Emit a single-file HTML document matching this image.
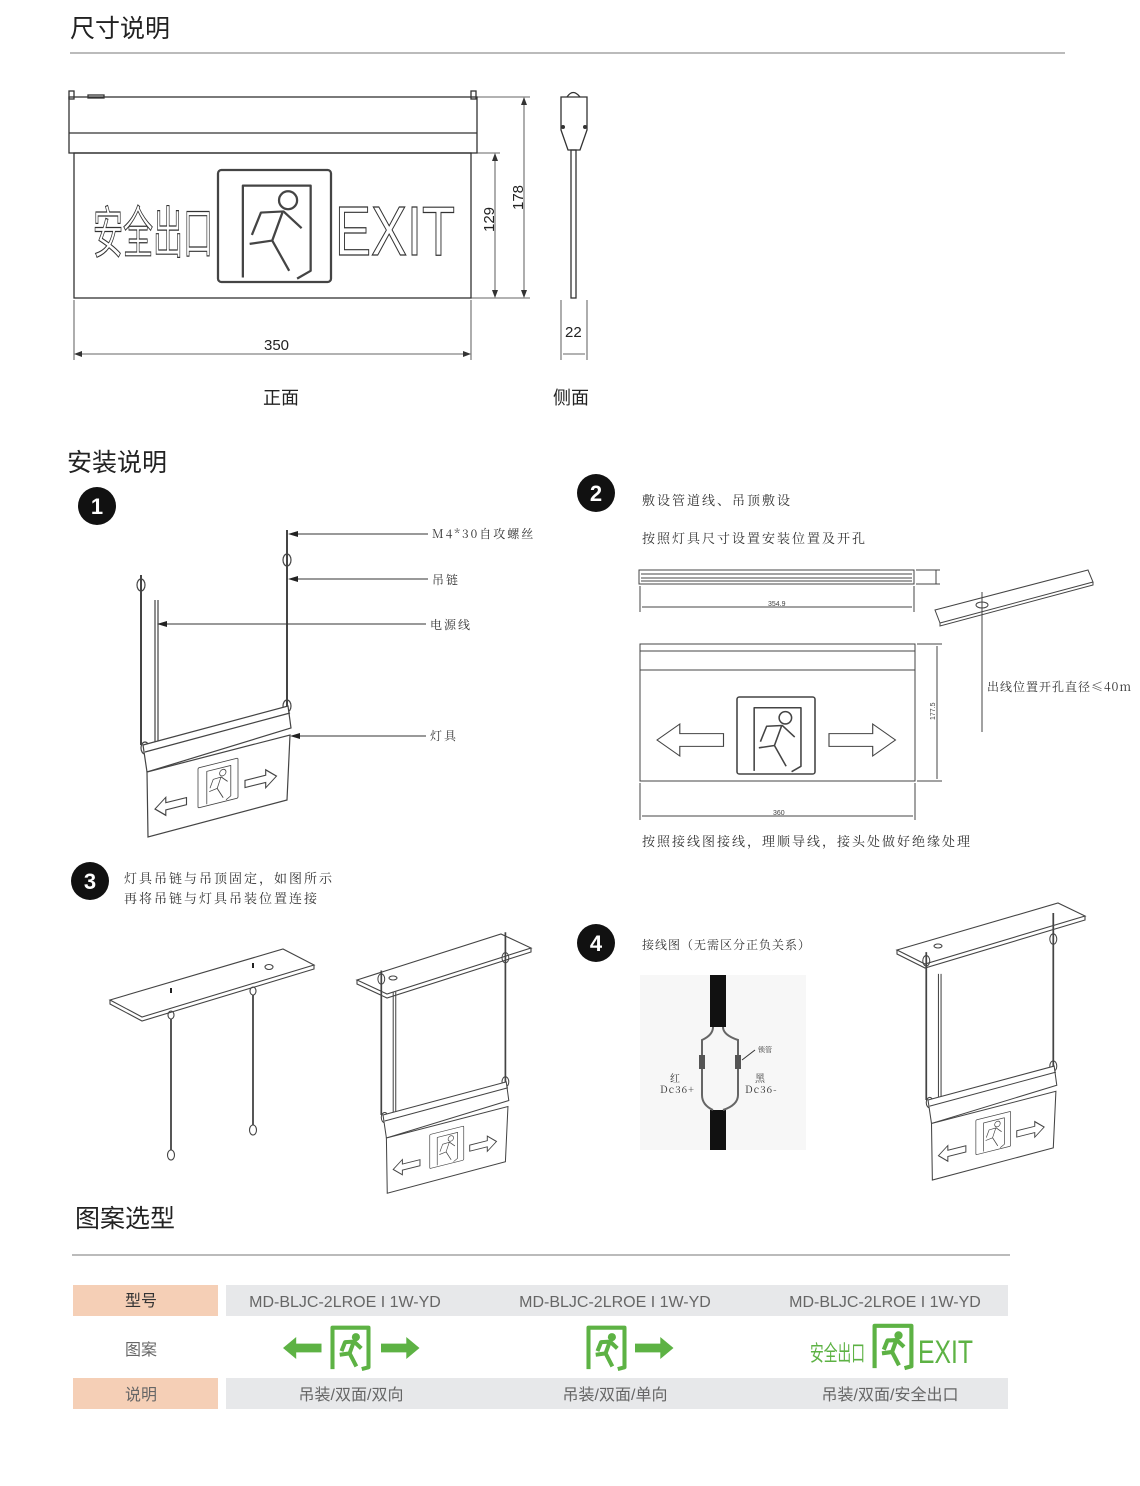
<!DOCTYPE html>
<html><head><meta charset="utf-8"><style>
html,body{margin:0;padding:0;background:#fff}
svg{display:block}
text{font-family:"Liberation Sans","Noto Sans CJK SC",sans-serif}
.s{font-family:"Noto Serif CJK SC","Liberation Serif",serif;fill:#333;letter-spacing:2px}
</style></head><body>
<svg width="1140" height="1486" viewBox="0 0 1140 1486" xmlns="http://www.w3.org/2000/svg">
<defs>
<g id="man" fill="none" stroke="#444" stroke-width="2" stroke-linejoin="round">
 <rect x="0" y="0" width="100" height="100" rx="3"/>
 <path d="M22,96 V14 H82 V90 L70,97"/>
 <circle cx="62" cy="27" r="8"/>
 <path d="M30,58 L38,38 L58,37 L74,52 M57,38 L48,63 L63,90 M48,63 L28,66"/>
</g>
<g id="gman" fill="none" stroke="#5db244" stroke-width="9" stroke-linejoin="round">
 <path d="M10,98 V6 H90 V94 L75,98"/>
 <circle cx="62" cy="27" r="9" fill="#5db244" stroke="none"/>
 <path d="M30,58 L38,38 L58,37 L74,52 M57,38 L48,63 L63,92 M48,63 L26,66"/>
</g>
<path id="arrL" d="M0,20 L24,0 V12 H70 V28 H24 V40 Z"/>
<path id="arrR" d="M70,20 L46,0 V12 H0 V28 H46 V40 Z"/>
<g id="hang" fill="none" stroke="#444" stroke-width="1.2">
 <line x1="141" y1="575" x2="141" y2="745" stroke-width="2"/>
 <line x1="155" y1="600" x2="155" y2="748"/>
 <line x1="158" y1="600" x2="158" y2="748"/>
 <line x1="287" y1="530" x2="287" y2="708" stroke-width="2"/>
 <ellipse cx="141" cy="585" rx="4" ry="6"/>
 <ellipse cx="287" cy="560" rx="4" ry="6"/>
 <ellipse cx="287" cy="706" rx="4" ry="6"/>
 <ellipse cx="145" cy="748" rx="4" ry="6"/>
 <path d="M143,745 L288,706 L291,728 L147,772 Z" fill="#fff"/>
 <path d="M145,752 L290,713"/>
 <path d="M147,772 L290,735 L287,800 L148,837 Z" fill="#fff"/>
 <g transform="translate(198,768) skewY(-14) scale(0.4)"><use href="#man"/></g>
 <g transform="translate(155,800) skewY(-14) scale(0.45)" fill="#fff" stroke="#444" stroke-width="2.5"><use href="#arrL"/></g>
 <g transform="translate(245,775) skewY(-14) scale(0.45)" fill="#fff" stroke="#444" stroke-width="2.5"><use href="#arrR"/></g>
</g>
</defs>

<!-- Section 1 -->
<text x="70" y="37" font-size="25" fill="#222">尺寸说明</text>
<line x1="70" y1="53" x2="1065" y2="53" stroke="#bbb" stroke-width="2"/>

<g fill="none" stroke="#333" stroke-width="1.3">
 <rect x="69" y="97" width="408" height="56"/>
 <line x1="69" y1="133" x2="477" y2="133"/>
 <rect x="69" y="91" width="5" height="8"/><rect x="471" y="91" width="5" height="8"/>
 <rect x="88" y="95" width="16" height="3"/>
 <rect x="74" y="153" width="397" height="145"/>
 <!-- dims -->
 <line x1="477" y1="153" x2="500" y2="153" stroke-width="0.8"/>
 <line x1="471" y1="298" x2="530" y2="298" stroke-width="0.8"/>
 <line x1="477" y1="97" x2="530" y2="97" stroke-width="0.8"/>
 <line x1="495" y1="155" x2="495" y2="296" stroke-width="0.8"/>
 <line x1="524" y1="99" x2="524" y2="296" stroke-width="0.8"/>
 <line x1="74" y1="300" x2="74" y2="360" stroke-width="0.8"/>
 <line x1="471" y1="300" x2="471" y2="360" stroke-width="0.8"/>
 <line x1="76" y1="354" x2="469" y2="354" stroke-width="0.8"/>
 <!-- side -->
 <path d="M561,97 H587 V130 L580,150 H568 L561,130 Z"/>
 <path d="M567,97 Q573,88 580,97"/>
 <rect x="571" y="150" width="5" height="148"/>
 <line x1="561" y1="300" x2="561" y2="360" stroke-width="0.8"/>
 <line x1="587" y1="300" x2="587" y2="360" stroke-width="0.8"/>
 <line x1="563" y1="354" x2="585" y2="354" stroke-width="0.8"/>
</g>
<g transform="translate(218,170) scale(1.13,1.12)"><use href="#man"/></g>
<g fill="#333">
 <path d="M495,153 l-3,8 h6z M495,298 l-3,-8 h6z M524,97 l-3,8 h6z M524,298 l-3,-8 h6z M74,354 l8,-3 v6z M471,354 l-8,-3 v6z"/>
 <circle cx="563" cy="127" r="2"/><circle cx="585" cy="127" r="2"/>
</g>
<text x="93" y="253" font-size="56" fill="#fff" stroke="#333" stroke-width="1.2" textLength="120" lengthAdjust="spacingAndGlyphs">安全出口</text>
<text x="335" y="255" font-size="70" fill="#fff" stroke="#333" stroke-width="1.2" textLength="120" lengthAdjust="spacingAndGlyphs">EXIT</text>
<text x="494" y="232" font-size="15" fill="#222" transform="rotate(-90 494 232)">129</text>
<text x="523" y="210" font-size="15" fill="#222" transform="rotate(-90 523 210)">178</text>
<text x="264" y="350" font-size="15" fill="#222">350</text>
<text x="565" y="337" font-size="15" fill="#222">22</text>
<text x="263" y="404" font-size="18" fill="#222">正面</text>
<text x="553" y="404" font-size="18" fill="#222">侧面</text>

<!-- Section 2 -->
<text x="67" y="471" font-size="25" fill="#222">安装说明</text>
<circle cx="97" cy="506" r="19" fill="#111"/><text x="97" y="514" font-size="22" font-weight="bold" fill="#fff" text-anchor="middle">1</text>
<use href="#hang"/>
<g stroke="#333" stroke-width="1">
 <line x1="292" y1="534" x2="428" y2="534"/>
 <line x1="292" y1="579" x2="428" y2="579"/>
 <line x1="160" y1="624" x2="426" y2="624"/>
 <line x1="292" y1="736" x2="426" y2="736"/>
</g>
<g fill="#222"><path d="M288,534 l10,-3 v6z M288,579 l10,-3 v6z M157,624 l10,-3 v6z M290,736 l10,-3 v6z"/></g>
<text class="s" x="432" y="538" font-size="12">M4*30自攻螺丝</text>
<text class="s" x="432" y="584" font-size="12">吊链</text>
<text class="s" x="430" y="629" font-size="12">电源线</text>
<text class="s" x="430" y="740" font-size="12">灯具</text>

<circle cx="596" cy="493" r="19" fill="#111"/><text x="596" y="501" font-size="22" font-weight="bold" fill="#fff" text-anchor="middle">2</text>
<text class="s" x="642" y="505" font-size="13">敷设管道线、吊顶敷设</text>
<text class="s" x="642" y="543" font-size="13">按照灯具尺寸设置安装位置及开孔</text>
<g fill="none" stroke="#444" stroke-width="1">
 <rect x="639" y="570" width="275" height="14"/>
 <line x1="641" y1="574" x2="912" y2="574"/><line x1="641" y1="578" x2="912" y2="578"/><line x1="641" y1="581" x2="912" y2="581"/>
 <line x1="640" y1="586" x2="640" y2="612"/><line x1="914" y1="586" x2="914" y2="612"/>
 <line x1="642" y1="607" x2="912" y2="607"/>
 <line x1="916" y1="570" x2="940" y2="570"/><line x1="916" y1="584" x2="940" y2="584"/><line x1="936" y1="570" x2="936" y2="584"/>
 <path d="M935,610 L1088,570 L1093,582 L940,623 Z"/><path d="M940,623 L940,626 L1093,585 L1093,582"/>
 <ellipse cx="982" cy="605" rx="6" ry="3"/>
 <line x1="982" y1="592" x2="982" y2="732"/>
 <rect x="640" y="644" width="275" height="137"/>
 <line x1="640" y1="670" x2="915" y2="670"/><line x1="640" y1="651" x2="915" y2="651"/>
 <line x1="917" y1="644" x2="942" y2="644"/><line x1="917" y1="781" x2="942" y2="781"/>
 <line x1="937" y1="646" x2="937" y2="779"/>
 <line x1="640" y1="783" x2="640" y2="820"/><line x1="915" y1="783" x2="915" y2="820"/>
 <line x1="642" y1="816" x2="913" y2="816"/>
</g>
<text x="768" y="606" font-size="7" fill="#444">354.9</text>
<text x="773" y="815" font-size="7" fill="#444">360</text>
<text x="935" y="720" font-size="7" fill="#444" transform="rotate(-90 935 720)">177.5</text>
<g transform="translate(737,697) scale(0.78,0.77)"><use href="#man"/></g>
<g fill="#fff" stroke="#444" stroke-width="1.2"><use href="#arrL" transform="translate(657,724) scale(0.95,0.8)"/><use href="#arrR" transform="translate(829,724) scale(0.95,0.8)"/></g>
<text class="s" x="987" y="691" font-size="12" style="letter-spacing:1px">出线位置开孔直径≤40m</text>
<text class="s" x="642" y="846" font-size="13">按照接线图接线，理顺导线，接头处做好绝缘处理</text>

<!-- Step 3 -->
<circle cx="90" cy="881" r="19" fill="#111"/><text x="90" y="889" font-size="22" font-weight="bold" fill="#fff" text-anchor="middle">3</text>
<text class="s" x="124" y="883" font-size="13">灯具吊链与吊顶固定，如图所示</text>
<text class="s" x="124" y="903" font-size="13">再将吊链与灯具吊装位置连接</text>
<g fill="none" stroke="#444" stroke-width="1.1">
 <path d="M110,1000 L283,949 L314,965 L142,1017 Z" fill="#fff"/>
 <path d="M110,1000 V1004 L142,1021 L314,969 V965"/>
 <ellipse cx="269" cy="967" rx="4" ry="2.5"/>
 <ellipse cx="171" cy="1015" rx="3" ry="4"/><ellipse cx="253" cy="991" rx="3" ry="4"/>
 <line x1="171" y1="1019" x2="171" y2="1150" stroke-width="1.8"/>
 <line x1="253" y1="995" x2="253" y2="1125" stroke-width="1.8"/>
 <ellipse cx="171" cy="1155" rx="3.5" ry="5"/><ellipse cx="253" cy="1130" rx="3.5" ry="5"/>
 <path d="M357,980 L501,934 L531,948 L387,994 Z" fill="#fff"/>
 <path d="M357,980 V984 L387,998 L531,952 V948"/>
 <ellipse cx="393" cy="978" rx="4" ry="2"/>
 <path d="M897,950 L1058,903 L1085,916 L925,964 Z" fill="#fff"/>
 <path d="M897,950 V954 L925,968 L1085,920 V916"/>
 <ellipse cx="938" cy="946" rx="4" ry="2"/>
</g>
<rect x="170" y="988" width="2" height="5" fill="#222"/><rect x="252" y="963" width="2" height="5" fill="#222"/>
<use href="#hang" transform="translate(261.45,481.75) scale(0.85)"/>
<use href="#hang" transform="translate(803.6,451.85) scale(0.87)"/>

<!-- Step 4 -->
<circle cx="596" cy="943" r="19" fill="#111"/><text x="596" y="951" font-size="22" font-weight="bold" fill="#fff" text-anchor="middle">4</text>
<text class="s" x="642" y="949" font-size="12" style="letter-spacing:1px">接线图（无需区分正负关系）</text>
<rect x="640" y="975" width="166" height="175" fill="#f7f7f7"/>
<rect x="710" y="975" width="16" height="52" fill="#111"/>
<rect x="710" y="1110" width="16" height="40" fill="#111"/>
<path d="M713,1027 Q713,1035 702,1040 V1095 Q702,1105 713,1110 M723,1027 Q723,1035 738,1040 V1095 Q738,1105 723,1110" fill="none" stroke="#666" stroke-width="2"/>
<rect x="699" y="1055" width="6" height="14" fill="#555"/><rect x="735" y="1055" width="6" height="14" fill="#555"/>
<line x1="742" y1="1060" x2="755" y2="1050" stroke="#333"/>
<text class="s" x="758" y="1052" font-size="7" style="letter-spacing:0">锁管</text>
<text class="s" x="670" y="1082" font-size="10" style="letter-spacing:0">红</text>
<text class="s" x="660" y="1093" font-size="10" style="letter-spacing:1px">Dc36+</text>
<text class="s" x="755" y="1082" font-size="10" style="letter-spacing:0">黑</text>
<text class="s" x="745" y="1093" font-size="10" style="letter-spacing:1px">Dc36-</text>

<!-- Section 3 -->
<text x="75" y="1227" font-size="25" fill="#222">图案选型</text>
<line x1="72" y1="1255" x2="1010" y2="1255" stroke="#bbb" stroke-width="2"/>
<rect x="73" y="1285" width="145" height="31" fill="#f5cfb6"/>
<rect x="226" y="1285" width="782" height="31" fill="#e7e8ea"/>
<rect x="73" y="1378" width="145" height="31" fill="#f5cfb6"/>
<rect x="226" y="1378" width="782" height="31" fill="#e7e8ea"/>
<g font-size="16" fill="#666" text-anchor="middle">
 <text x="141" y="1306" fill="#333">型号</text>
 <text x="345" y="1307">MD-BLJC-2LROE I 1W-YD</text>
 <text x="615" y="1307">MD-BLJC-2LROE I 1W-YD</text>
 <text x="885" y="1307">MD-BLJC-2LROE I 1W-YD</text>
 <text x="141" y="1355">图案</text>
 <text x="141" y="1400">说明</text>
 <text x="351" y="1400">吊装/双面/双向</text>
 <text x="615" y="1400">吊装/双面/单向</text>
 <text x="890" y="1400">吊装/双面/安全出口</text>
</g>
<g fill="#5db244">
 <use href="#arrL" transform="translate(283,1337) scale(0.55)"/>
 <use href="#arrR" transform="translate(381,1337) scale(0.55)"/>
 <use href="#arrR" transform="translate(635,1337) scale(0.55)"/>
</g>
<use href="#gman" transform="translate(328,1325) scale(0.45)"/>
<use href="#gman" transform="translate(584,1325) scale(0.45)"/>
<use href="#gman" transform="translate(870,1323) scale(0.46)"/>
<text x="810" y="1361" font-size="22" fill="#5db244" textLength="55" lengthAdjust="spacingAndGlyphs">安全出口</text>
<text x="918" y="1363" font-size="32" fill="#5db244" textLength="55" lengthAdjust="spacingAndGlyphs">EXIT</text>
</svg>
</body></html>
